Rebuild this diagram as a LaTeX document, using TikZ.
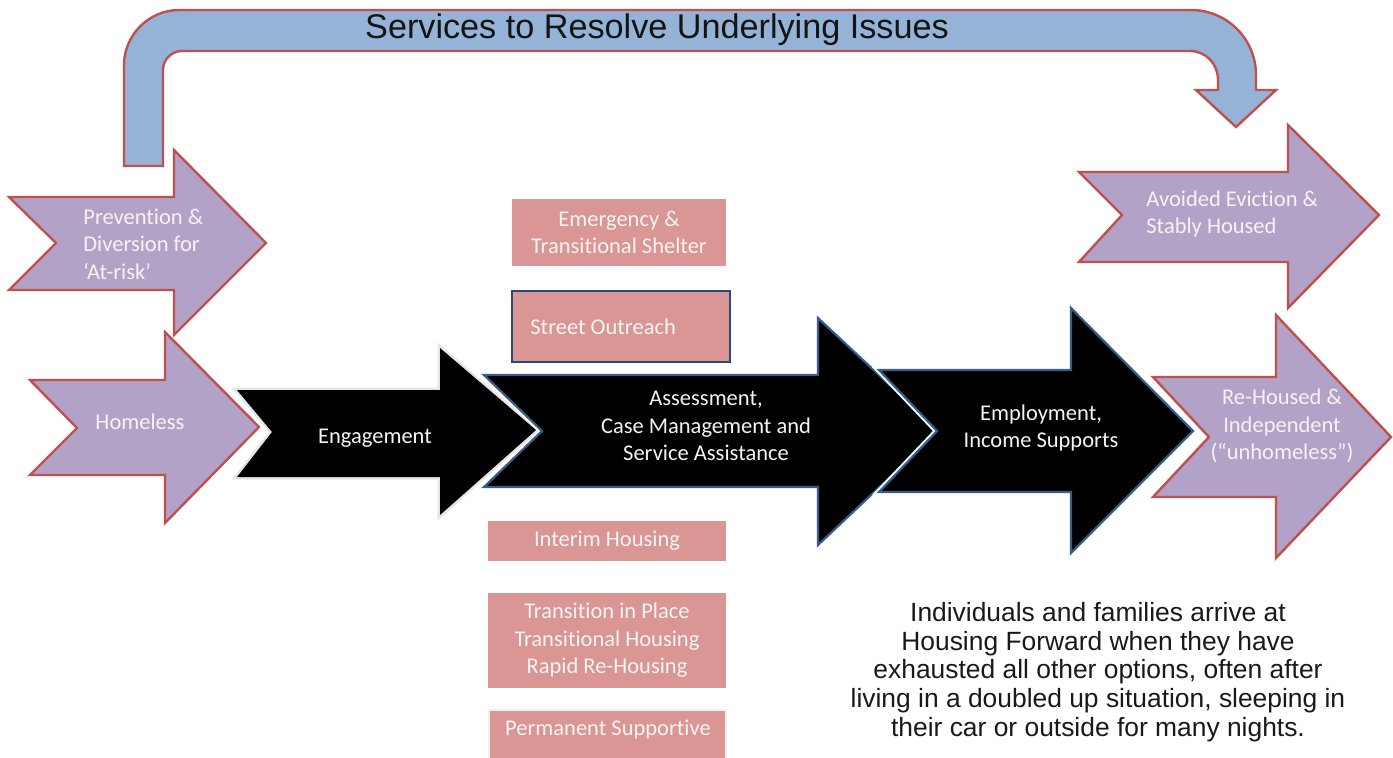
\documentclass[tikz,border=0pt]{standalone}
\usepackage{fontspec}
\setmainfont{Carlito}[Ligatures=NoCommon]
\newfontfamily\arialf{Liberation Sans}
\definecolor{blueF}{HTML}{95B3D7}
\definecolor{redD}{HTML}{C0504D}
\definecolor{purF}{HTML}{B3A2C7}
\definecolor{pinkF}{HTML}{DA9694}
\definecolor{navyD}{HTML}{385D8A}
\definecolor{navyB}{HTML}{2A4A76}
\definecolor{txtW}{HTML}{F4F4F4}
\begin{document}
\begin{tikzpicture}[x=0.5pt,y=-0.5pt,
  purarrow/.style={fill=purF, draw=redD, line width=1.2pt, line join=miter},
  glowline/.style={draw=black!10, line width=2.5pt, line join=miter},
  whiteline/.style={draw=white, line width=3pt, line join=miter},
  blkarrow/.style={fill=black, draw=navyD, line width=1.1pt, line join=miter},
  ctext/.style={font=\fontsize{11.25}{13.75}\selectfont, text=txtW, align=center, inner sep=0pt},
  ltext/.style={font=\fontsize{11.25}{13.75}\selectfont, text=txtW, align=left, inner sep=0pt, anchor=west},
  pbox/.style={fill=pinkF, draw=none, inner sep=0pt, text=txtW, font=\fontsize{11.25}{13.75}\selectfont, align=center},
  arialtext/.style={font=\arialf\fontsize{13.2}{14.4}\selectfont, text=black!90, align=center, inner sep=0pt}
]
\useasboundingbox (0,0) rectangle (1393,757);

% top arrow
\path[fill=blueF, draw=redD, line width=1.2pt, line join=miter]
  (124,166) -- (124,65) .. controls (124,35) and (149,10) .. (179,10)
  -- (1191,10) .. controls (1227,10) and (1256,39) .. (1256,75)
  -- (1256,90) -- (1276,90) -- (1236,127) -- (1196,90) -- (1218,90)
  -- (1218,80) .. controls (1218,64) and (1206,51) .. (1190,51)
  -- (182,51) .. controls (171.5,51) and (163,59.5) .. (163,70)
  -- (163,166) -- cycle;
\node[font=\arialf\fontsize{17.1}{19}\selectfont, text=black!92, inner sep=0pt] (title) at (657,30) {Services to Resolve Underlying Issues};

% left purple arrows
\path[purarrow] (9,197) -- (174,197) -- (174,150) -- (266,243) -- (174,335) -- (174,290) -- (9,290) -- (56,243) -- cycle;
\node[ltext] (prev) at (83,244) {Prevention \&\\Diversion for\\‘At-risk’};
\path[purarrow] (30,380) -- (165,380) -- (165,332) -- (259,427) -- (165,523) -- (165,475) -- (30,475) -- (77,428) -- cycle;
\node[ctext] (homeless) at (140,422) {Homeless};

% black arrows
\path[glowline] (237,390) -- (440,390) -- (440,348) -- (536,430) -- (440,515) -- (440,477) -- (237,477) -- (272,432) -- cycle;
\path[fill=black] (237,390) -- (440,390) -- (440,348) -- (536,430) -- (440,515) -- (440,477) -- (237,477) -- (272,432) -- cycle;
\node[ctext] (engage) at (375,438) {Engagement};

\path[whiteline] (484,375) -- (818,375) -- (818,318) -- (939,431) -- (818,545) -- (818,487) -- (484,487) -- (542,431) -- cycle;
\path[blkarrow] (484,375) -- (818,375) -- (818,318) -- (939,431) -- (818,545) -- (818,487) -- (484,487) -- (542,431) -- cycle;
\node[ctext] (assess) at (706,426) {Assessment,\\Case Management and\\Service Assistance};

\path[whiteline] (879,370) -- (1071,370) -- (1071,308) -- (1193,431) -- (1071,553) -- (1071,492) -- (879,492) -- (937,431) -- cycle;
\path[blkarrow] (879,370) -- (1071,370) -- (1071,308) -- (1193,431) -- (1071,553) -- (1071,492) -- (879,492) -- (937,431) -- cycle;
\node[ctext] (employ) at (1041,428) {Employment,\\Income Supports};

% right purple arrows
\path[purarrow] (1079,172) -- (1288,172) -- (1288,125) -- (1379,215) -- (1288,308) -- (1288,262) -- (1079,262) -- (1122,215) -- cycle;
\node[ltext] (avoid) at (1146,214) {Avoided Eviction \&\\Stably Housed};
\path[purarrow] (1153,377) -- (1276,377) -- (1276,315) -- (1391,437) -- (1276,558) -- (1276,497) -- (1153,497) -- (1209,437) -- cycle;
\node[ctext] (rehoused) at (1282,426) {Re-Housed \&\\Independent\\(“unhomeless”)};

% pink boxes
\node[pbox, minimum width=107pt, minimum height=33.5pt] (emerg) at (619,232.5) {Emergency \&\\Transitional Shelter};
\node[pbox, draw=navyB, line width=1.4pt, minimum width=109pt, minimum height=35.5pt] (street) at (621,326.5) {};
\node[ltext] (streettxt) at (530,327) {Street Outreach};
\node[pbox, minimum width=119pt, minimum height=20pt] (interim) at (607,541) {Interim Housing};
\node[pbox, minimum width=119pt, minimum height=47.5pt] (trans) at (607,640.5) {Transition in Place\\Transitional Housing\\Rapid Re-Housing};
\path[fill=pinkF, draw=black!6, line width=1.2pt] (489,710) rectangle (726,770);
\node[ctext] (perm) at (608,730) {Permanent Supportive};

% paragraph
\node[arialtext] (para) at (1098,672) {Individuals and families arrive at\\Housing Forward when they have\\exhausted all other options, often after\\living in a doubled up situation, sleeping in\\their car or outside for many nights.};
\end{tikzpicture}
\end{document}
